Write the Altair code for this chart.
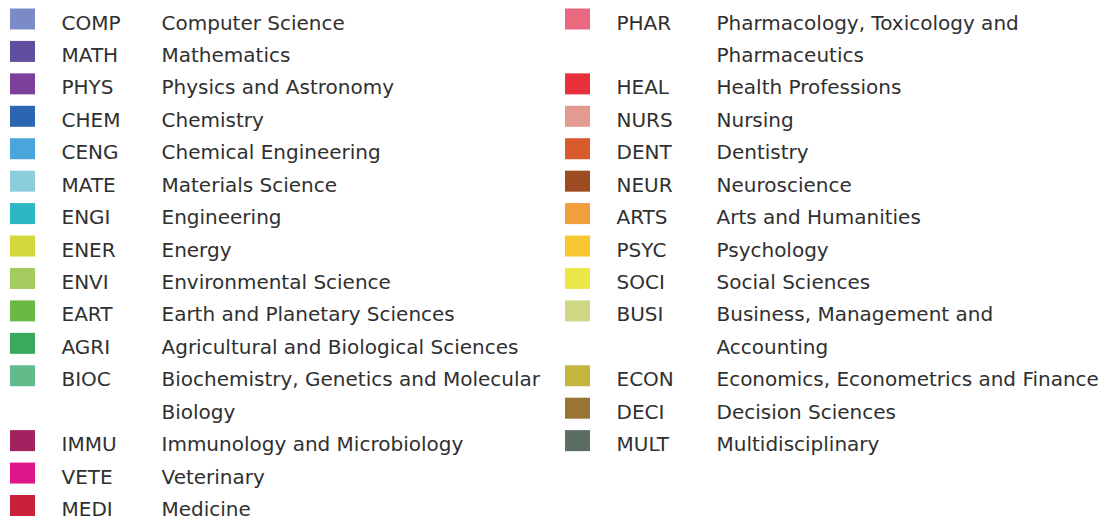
import altair as alt
import pandas as pd

codes = ["COMP", "MATH", "PHYS", "CHEM", "CENG", "MATE", "ENGI", "ENER", "ENVI",
         "EART", "AGRI", "BIOC", "IMMU", "VETE", "MEDI",
         "PHAR", "HEAL", "NURS", "DENT", "NEUR", "ARTS", "PSYC", "SOCI", "BUSI",
         "ECON", "DECI", "MULT"]
names = ["Computer Science", "Mathematics", "Physics and Astronomy", "Chemistry",
         "Chemical Engineering", "Materials Science", "Engineering", "Energy",
         "Environmental Science", "Earth and Planetary Sciences",
         "Agricultural and Biological Sciences",
         "Biochemistry, Genetics and Molecular\nBiology",
         "Immunology and Microbiology", "Veterinary", "Medicine",
         "Pharmacology, Toxicology and\nPharmaceutics", "Health Professions",
         "Nursing", "Dentistry", "Neuroscience", "Arts and Humanities",
         "Psychology", "Social Sciences", "Business, Management and\nAccounting",
         "Economics, Econometrics and Finance", "Decision Sciences",
         "Multidisciplinary"]
colors = ["#7a8bc7", "#604f9f", "#7d3f9c", "#2c66b0", "#4aa5db", "#8dcedb",
          "#2db7c3", "#d3d83d", "#a4cb5d", "#6bb844", "#3aa95b", "#62bb8b",
          "#a2215f", "#df1689", "#cb2039",
          "#e96a80", "#e7303a", "#e39a90", "#d75b2b", "#9d4b20", "#f19f3d",
          "#f7c732", "#ebe74a", "#cfd783", "#c3b53e", "#9a7435", "#5c6d61"]
left_count = 15

# derive column / row from the order and number of lines of each label
cols, rows = [], []
r = 0
for i, n in enumerate(names):
    if i == left_count:
        r = 0
    cols.append(0 if i < left_count else 1)
    rows.append(r)
    r += n.count("\n") + 1

df = pd.DataFrame({"code": codes, "name": names, "color": colors,
                   "col": cols, "row": rows})

xs = alt.Scale(domain=[0, 1], range=[14.5, 569.5])
ys = alt.Scale(domain=[0, 15], range=[9.0, 495.5])

base = alt.Chart(df).encode(
    x=alt.X("col:Q", scale=xs, axis=None),
    y=alt.Y("row:Q", scale=ys, axis=None),
)

swatch = "M-1.19,-1H1.19V1H-1.19Z"
squares = base.mark_point(shape=swatch, size=441, filled=True, opacity=1,
                          strokeWidth=0).encode(
    color=alt.Color("color:N", scale=None, legend=None)
)

text_style = dict(align="left", baseline="alphabetic", dy=10.5,
                  font="DejaVu Sans", fontSize=20, color="#303030")

code_text = base.mark_text(dx=39, **text_style).encode(text="code:N")

name_text = base.mark_text(dx=139, lineBreak="\n", lineHeight=32.43,
                           **text_style).encode(text="name:N")

chart = alt.layer(squares, code_text, name_text).properties(
    width=1096, height=512, padding=0,
    autosize=alt.AutoSizeParams(type="fit", contains="padding"),
    background="white",
).configure_view(stroke=None)

chart.save("out.html", embed_options={"renderer": "svg", "actions": False})
